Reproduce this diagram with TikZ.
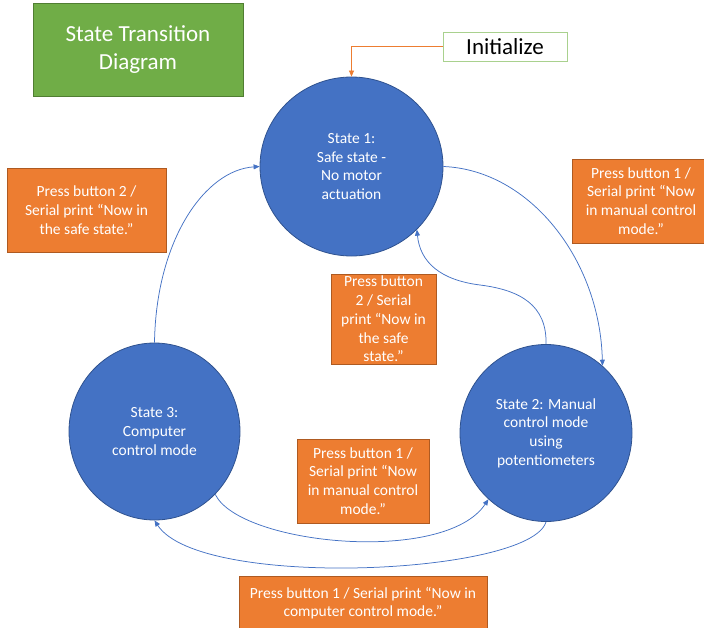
\documentclass[tikz,border=0pt]{standalone}
\usepackage{fontspec}
\setmainfont{Carlito}
\usetikzlibrary{shapes.geometric,arrows.meta}
\definecolor{ofill}{HTML}{ED7D31}
\definecolor{oborder}{HTML}{AE5A21}
\definecolor{sblue}{HTML}{4472C4}
\definecolor{sborder}{HTML}{2F528F}
\definecolor{gfill}{HTML}{70AD47}
\definecolor{gborder}{HTML}{507E32}
\definecolor{ginit}{HTML}{A9D18E}
\tikzset{
  state/.style={ellipse, draw=sborder, fill=sblue, line width=0.8pt, inner sep=0pt,
    text=white, align=center, font=\fontsize{15.5}{18.7}\selectfont},
  lbox/.style={rectangle, draw=oborder, fill=ofill, line width=0.8pt, inner sep=0pt,
    text=white, align=center, font=\fontsize{15.5}{18.7}\selectfont},
  trans/.style={draw=sblue, line width=0.75pt, -{Triangle[length=6pt,width=5pt]}},
  initarrow/.style={draw=ofill, line width=0.75pt, -{Triangle[length=6pt,width=5pt]}},
}
\begin{document}
\begin{tikzpicture}[x=1pt,y=-1pt]
\useasboundingbox (0,0) rectangle (704,627);
\clip (0,0) rectangle (704,627);
% title
\node[draw=gborder, fill=gfill, line width=0.8pt, minimum width=210, minimum height=93,
  text=white, align=center, font=\fontsize{23}{28.3}\selectfont] (title) at (138,49.5) {State Transition\\Diagram};
% initialize
\node[draw=ginit, fill=white, line width=1pt, minimum width=124, minimum height=29, inner sep=0pt,
  font=\fontsize{23}{28}\selectfont] (init) at (505,46.5) {Initialize};
% states
\node[state, minimum width=183, minimum height=179] (s1) at (351.5,166.5) {State 1:\\Safe state -\\No motor\\actuation};
\node[state, minimum width=171, minimum height=177] (s3) at (154.5,431.5) {State 3:\\Computer\\control mode};
\node[state, minimum width=172, minimum height=177] (s2) at (546,433) {State 2: Manual\\control mode\\using\\potentiometers};
% labels
\node[lbox, minimum width=159, minimum height=84] (l1) at (86.5,210) {Press button 2 /\\Serial print “Now in\\the safe state.”};
\node[lbox, minimum width=138, minimum height=84] (l2) at (641,201) {Press button 1 /\\Serial print “Now\\in manual control\\mode.”};
\node[lbox, minimum width=105, minimum height=90] (l3) at (383.5,319) {Press button\\2 / Serial\\print “Now in\\the safe\\state.”};
\node[lbox, minimum width=132, minimum height=84] (l4) at (363,481) {Press button 1 /\\Serial print “Now\\in manual control\\mode.”};
\node[lbox, minimum width=248, minimum height=54] (l5) at (363,603) {Press button 1 / Serial print “Now in\\computer control mode.”};
% connectors
\draw[initarrow] (init.west) -| (s1.north);
\draw[trans] (s3.north) .. controls (156,240) and (205,170) .. (s1.west);
\draw[trans] (s1.east) .. controls (530,170) and (600,260) .. (s2.50);
\draw[trans] (s2.north) .. controls (547,305) and (520,290) .. (480,285)
  .. controls (440,280) and (420,262) .. (s1.-44);
\draw[trans] (s3.-46) .. controls (240,545) and (445,565) .. (s2.-131);
\draw[trans] (s2.south) .. controls (530,575) and (200,590) .. (s3.south);
\end{tikzpicture}
\end{document}
